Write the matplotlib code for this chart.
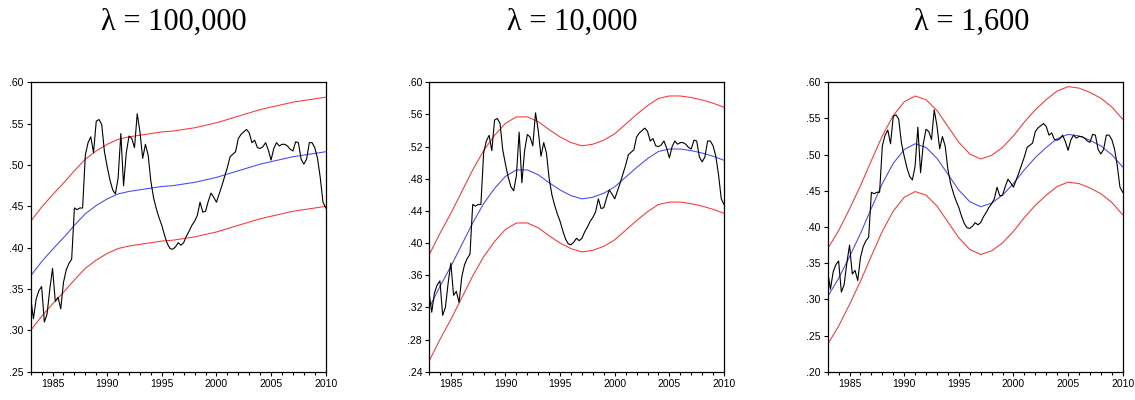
import numpy as np
import matplotlib
matplotlib.use("Agg")
import matplotlib.pyplot as plt
from matplotlib.ticker import FuncFormatter, MultipleLocator

plt.rcParams["font.family"] = ["Liberation Sans", "DejaVu Sans"]

# quarterly series, 1983Q1 .. 2010Q1
start_year = 1983
series = [
    0.339, 0.314, 0.338, 0.348, 0.353, 0.310, 0.320, 0.350,
    0.375, 0.335, 0.340, 0.326, 0.358, 0.373, 0.381, 0.386,
    0.448, 0.446, 0.448, 0.448, 0.512, 0.527, 0.534, 0.515,
    0.553, 0.555, 0.549, 0.516, 0.498, 0.482, 0.470, 0.465,
    0.484, 0.538, 0.475, 0.515, 0.535, 0.532, 0.521, 0.562,
    0.540, 0.508, 0.525, 0.512, 0.480, 0.460, 0.447, 0.436,
    0.427, 0.415, 0.405, 0.399, 0.398, 0.401, 0.406, 0.403,
    0.406, 0.414, 0.420, 0.427, 0.432, 0.439, 0.455, 0.443,
    0.444, 0.456, 0.466, 0.461, 0.455, 0.465, 0.475, 0.486,
    0.497, 0.510, 0.513, 0.516, 0.532, 0.537, 0.540, 0.543,
    0.539, 0.527, 0.530, 0.521, 0.520, 0.522, 0.527, 0.518,
    0.506, 0.520, 0.527, 0.523, 0.525, 0.525, 0.523, 0.519,
    0.517, 0.528, 0.527, 0.507, 0.501, 0.507, 0.527, 0.527,
    0.521, 0.508, 0.485, 0.455, 0.448,
]

# trend and bands, read once a year 1983 .. 2010
years = list(range(1983, 2011))

trend_100k = [0.366, 0.383, 0.398, 0.412, 0.427, 0.441, 0.451, 0.459, 0.465, 0.468,
              0.470, 0.472, 0.474, 0.475, 0.477, 0.479, 0.482, 0.485, 0.489, 0.493,
              0.497, 0.501, 0.504, 0.507, 0.510, 0.512, 0.514, 0.516]
upper_100k = [0.432, 0.449, 0.464, 0.478, 0.493, 0.507, 0.517, 0.525, 0.531, 0.534,
              0.536, 0.538, 0.540, 0.541, 0.543, 0.545, 0.548, 0.551, 0.555, 0.559,
              0.563, 0.567, 0.570, 0.573, 0.576, 0.578, 0.580, 0.582]
lower_100k = [0.300, 0.317, 0.332, 0.346, 0.361, 0.375, 0.385, 0.393, 0.399, 0.402,
              0.404, 0.406, 0.408, 0.409, 0.411, 0.413, 0.416, 0.419, 0.423, 0.427,
              0.431, 0.435, 0.438, 0.441, 0.444, 0.446, 0.448, 0.450]

trend_10k = [0.319, 0.346, 0.371, 0.398, 0.425, 0.449, 0.468, 0.483, 0.491, 0.491,
             0.485, 0.475, 0.466, 0.459, 0.455, 0.457, 0.462, 0.470, 0.482, 0.494,
             0.505, 0.514, 0.517, 0.517, 0.515, 0.512, 0.508, 0.503]
upper_10k = [0.385, 0.412, 0.437, 0.464, 0.491, 0.515, 0.534, 0.549, 0.557, 0.557,
             0.551, 0.541, 0.532, 0.525, 0.521, 0.523, 0.528, 0.536, 0.548, 0.560,
             0.571, 0.580, 0.583, 0.583, 0.581, 0.578, 0.574, 0.569]
lower_10k = [0.253, 0.280, 0.305, 0.332, 0.359, 0.383, 0.402, 0.417, 0.425, 0.425,
             0.419, 0.409, 0.400, 0.393, 0.389, 0.391, 0.396, 0.404, 0.416, 0.428,
             0.439, 0.448, 0.451, 0.451, 0.449, 0.446, 0.442, 0.437]

trend_1600 = [0.304, 0.329, 0.359, 0.391, 0.426, 0.460, 0.488, 0.507, 0.515, 0.510,
              0.495, 0.473, 0.451, 0.435, 0.428, 0.433, 0.444, 0.460, 0.479, 0.496,
              0.510, 0.522, 0.528, 0.526, 0.520, 0.512, 0.500, 0.483]
upper_1600 = [0.370, 0.395, 0.425, 0.457, 0.492, 0.526, 0.554, 0.573, 0.581, 0.576,
              0.561, 0.539, 0.517, 0.501, 0.494, 0.499, 0.510, 0.526, 0.545, 0.562,
              0.576, 0.588, 0.594, 0.592, 0.586, 0.578, 0.566, 0.549]
lower_1600 = [0.238, 0.263, 0.293, 0.325, 0.360, 0.394, 0.422, 0.441, 0.449, 0.444,
              0.429, 0.407, 0.385, 0.369, 0.362, 0.367, 0.378, 0.394, 0.413, 0.430,
              0.444, 0.456, 0.462, 0.460, 0.454, 0.446, 0.434, 0.417]

titles = ["\u03bb = 100,000", "\u03bb = 10,000", "\u03bb = 1,600"]
y_ranges = [(0.25, 0.60, 0.05), (0.24, 0.60, 0.04), (0.20, 0.60, 0.05)]
panels = [
    (trend_100k, upper_100k, lower_100k),
    (trend_10k, upper_10k, lower_10k),
    (trend_1600, upper_1600, lower_1600),
]

fig = plt.figure(figsize=(11.35, 4.0), dpi=100)
lefts = [30.7, 429.0, 827.7]
ax_w = 295.0
ax_bottom = (400 - 371.7) / 400
ax_h = (371.7 - 82.3) / 400

quarters = start_year + np.arange(len(series)) / 4.0

for i, (trend, upper, lower) in enumerate(panels):
    ax = fig.add_axes([lefts[i] / 1135, ax_bottom, ax_w / 1135, ax_h])
    ax.plot(years, upper, color="#ff3333", lw=0.75)
    ax.plot(years, lower, color="#ff3333", lw=0.75)
    ax.plot(years, trend, color="#4444ff", lw=0.75)
    ax.plot(quarters, series, color="black", lw=0.8)

    ymin, ymax, step = y_ranges[i]
    ax.set_ylim(ymin, ymax)
    ax.set_yticks(np.arange(ymin, ymax + step / 2, step))
    ax.yaxis.set_major_formatter(FuncFormatter(lambda v, p: f"{v:.2f}".lstrip("0")))
    ax.set_xlim(1983, 2010)
    ax.xaxis.set_major_locator(MultipleLocator(5))
    ax.xaxis.set_minor_locator(MultipleLocator(1))
    ax.tick_params(axis="both", which="major", labelsize=7.5, length=3, width=0.8,
                   direction="out", pad=2)
    ax.tick_params(axis="x", which="minor", length=2, width=0.8, direction="out")
    for s in ax.spines.values():
        s.set_linewidth(0.9)

    fig.text((lefts[i] + ax_w / 2 - 4) / 1135, 0.945, titles[i],
             ha="center", va="center", fontsize=22, family="Liberation Serif")

fig.savefig("out.png", dpi=100)
